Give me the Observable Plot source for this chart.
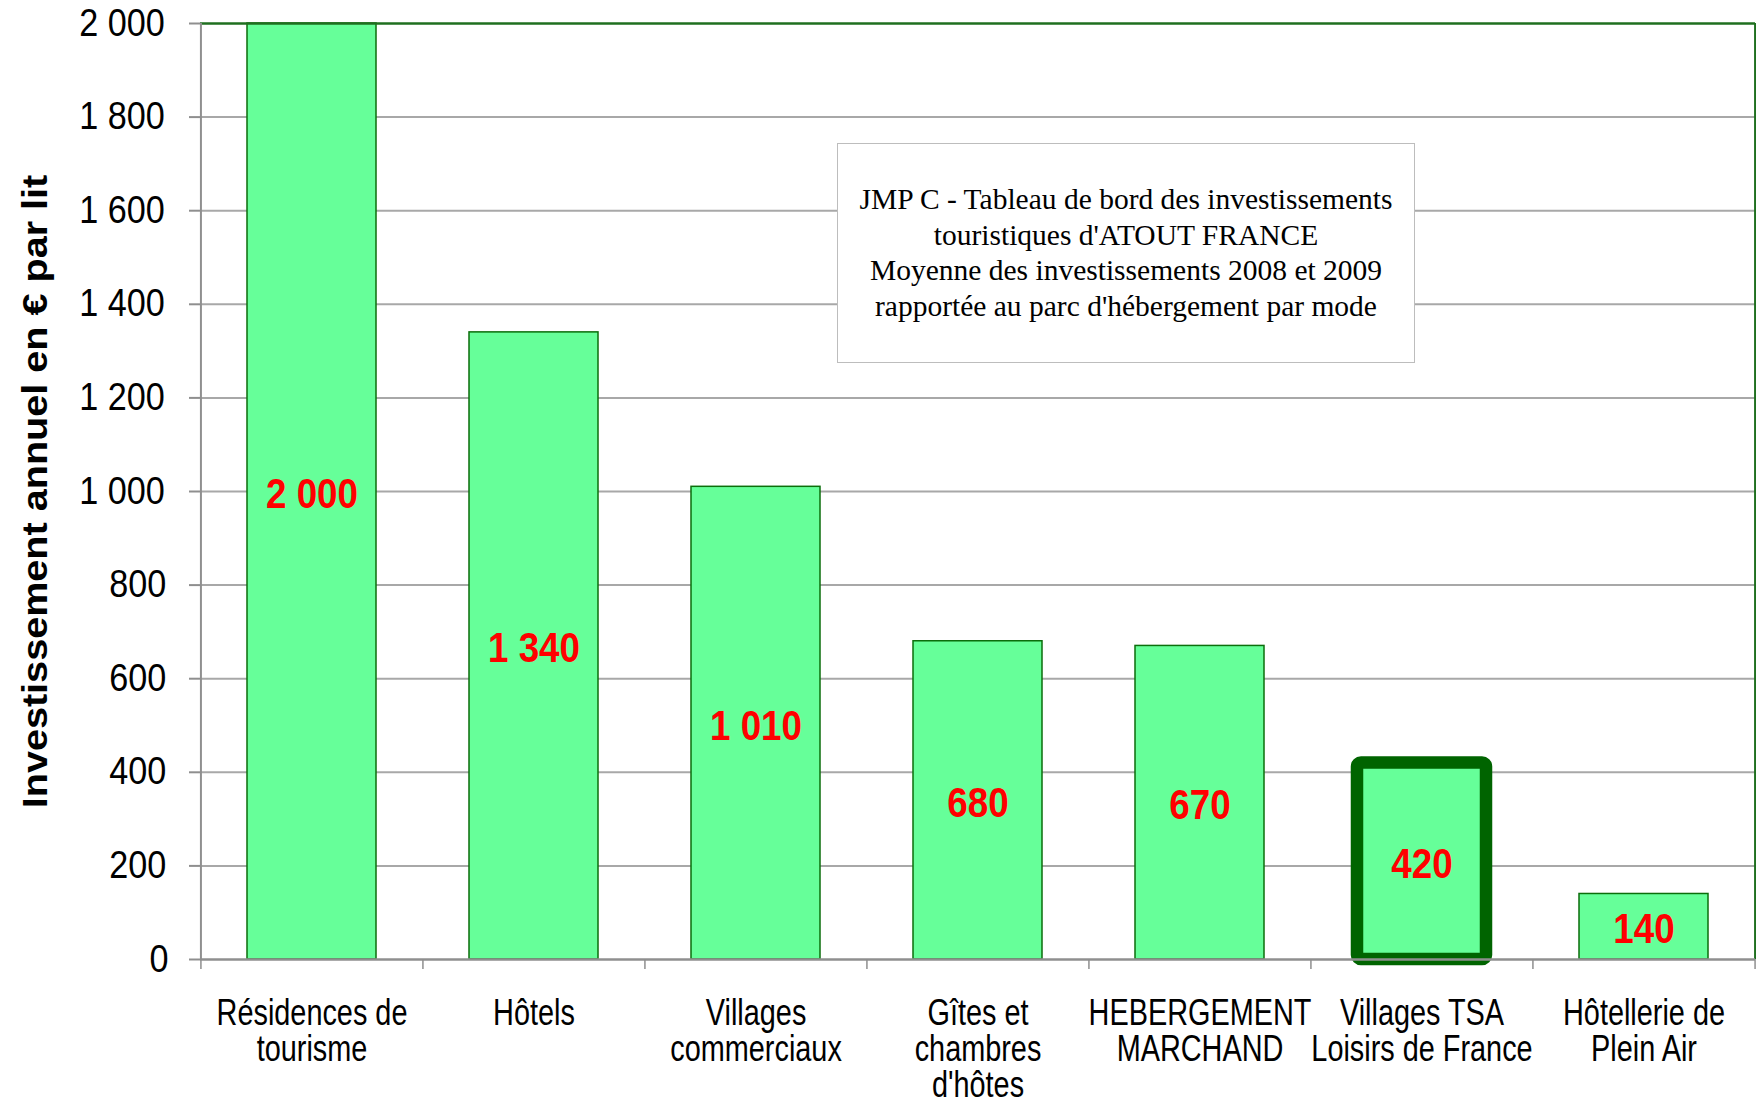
<!DOCTYPE html>
<html><head><meta charset="utf-8">
<script src="https://cdn.jsdelivr.net/npm/d3@7"></script>
<script src="https://cdn.jsdelivr.net/npm/@observablehq/plot@0.6"></script>
<style>
body{margin:0;background:#fff;}
#wrap{position:relative;width:1756px;height:1101px;}
#note{position:absolute;left:837px;top:143px;width:576px;height:218px;border:1.5px solid #bdbdbd;background:#fff;display:flex;flex-direction:column;align-items:center;justify-content:center;text-align:center;font-family:'Liberation Serif','Times New Roman',serif;font-size:29.5px;line-height:35.5px;color:#000;}
</style></head><body><div id="wrap"></div>
<script>
const categories = ["Résidences de\ntourisme","Hôtels","Villages\ncommerciaux","Gîtes et\nchambres\nd'hôtes","HEBERGEMENT\nMARCHAND","Villages TSA\nLoisirs de France","Hôtellerie de\nPlein Air"];
const values = [2000,1340,1010,680,670,420,140];
const highlighted = ["Villages TSA\nLoisirs de France"];
const yTicks = [0,200,400,600,800,1000,1200,1400,1600,1800,2000];
const yTitle = "Investissement annuel en € par lit";
const noteLines = ["JMP C - Tableau de bord des investissements","touristiques d'ATOUT FRANCE","Moyenne des investissements 2008 et 2009","rapportée au parc d'hébergement par mode"];

const W = 1756, H = 1101, ML = 200, MR = 1, MT = 23, MB = 142;
const step = (W - ML - MR) / categories.length;
const sans = "'Liberation Sans',Arial,sans-serif";
const fmt = d3.formatLocale({decimal:",", thousands:" ", grouping:[3], currency:["","€"]}).format(",d");
const data = categories.map((c,i)=>({cat:c, value:values[i]}));
const normal = data.filter(d=>!highlighted.includes(d.cat));
const hi = data.filter(d=>highlighted.includes(d.cat));
const green = "#1f6f1f", gray = "#8f8f8f", grid = "#a8a8a8";

const chart = Plot.plot({
  width: W, height: H,
  marginLeft: ML, marginRight: MR, marginTop: MT, marginBottom: MB,
  style: {fontFamily: sans, background: "#fff", color: "#000"},
  x: {type: "band", domain: categories, paddingInner: 0.42, paddingOuter: 0.21, label: null},
  y: {domain: [0, 2000], label: null},
  marks: [
    Plot.ruleY(yTicks.filter(d => d > 0 && d < 2000), {stroke: grid, strokeWidth: 2}),
    Plot.barY(normal, {x: "cat", y: "value", fill: "#66ff99", stroke: "#0b6e0b", strokeWidth: 1.5}),
    Plot.barY(hi, {x: "cat", y: "value", fill: "#66ff99", stroke: "#006400", strokeWidth: 12.5, rx: 4, strokeLinejoin: "round"}),
    Plot.ruleY([2000], {stroke: green, strokeWidth: 2.5}),
    Plot.ruleX([categories[categories.length-1]], {y1: 0, y2: 2000, dx: step/2, stroke: green, strokeWidth: 2}),
    Plot.ruleX([categories[0]], {y1: 0, y2: 2000, dx: -step/2, stroke: gray, strokeWidth: 2}),
    Plot.ruleY([0], {stroke: gray, strokeWidth: 2.5}),
    Plot.ruleX(categories, {y1: 0, y2: 0, insetBottom: -10, dx: -step/2, stroke: gray, strokeWidth: 1.5}),
    Plot.ruleX([categories[categories.length-1]], {y1: 0, y2: 0, insetBottom: -10, dx: step/2, stroke: gray, strokeWidth: 1.5}),
    Plot.axisY({ticks: yTicks, tickSize: 11, tickPadding: 20, fontSize: 38, tickFormat: fmt, label: null, stroke: gray, fill: "#000", strokeWidth: 2, className: "ylab"}),
    Plot.axisX({tickSize: 0, tickPadding: 40, fontSize: 37, lineHeight: 0.97, label: null, fill: "#000", className: "xlab"}),
    Plot.text(data, {x: "cat", y: d => d.value / 2, dy: 3, text: d => fmt(d.value), fill: "#ff0000", fontSize: 42, fontWeight: "bold", className: "vlab"}),
    Plot.text([yTitle], {frameAnchor: "left", textAnchor: "middle", rotate: -90, dx: -165, text: d => d, fontSize: 36, fontWeight: "bold", fill: "#000", className: "ytitle"})
  ]
});
const wrap = document.getElementById("wrap");
wrap.appendChild(chart);
const note = document.createElement("div");
note.id = "note";
noteLines.forEach(t => { const s = document.createElement("div"); s.textContent = t; note.appendChild(s); });
wrap.appendChild(note);

// horizontal text compression to mimic the condensed rendering of the original
function squeeze(selector, s) {
  chart.querySelectorAll(selector).forEach(t => {
    const b = t.getBBox();
    const cx = b.x + b.width / 2;
    const tr = t.getAttribute("transform") || "";
    t.setAttribute("transform", `${tr} translate(${cx},0) scale(${s},1) translate(${-cx},0)`);
  });
}
squeeze(".xlab text", 0.78);
squeeze(".vlab text", 0.875);
squeeze(".ylab text", 0.9);
squeeze(".ytitle text", 1.1);
</script></body></html>
